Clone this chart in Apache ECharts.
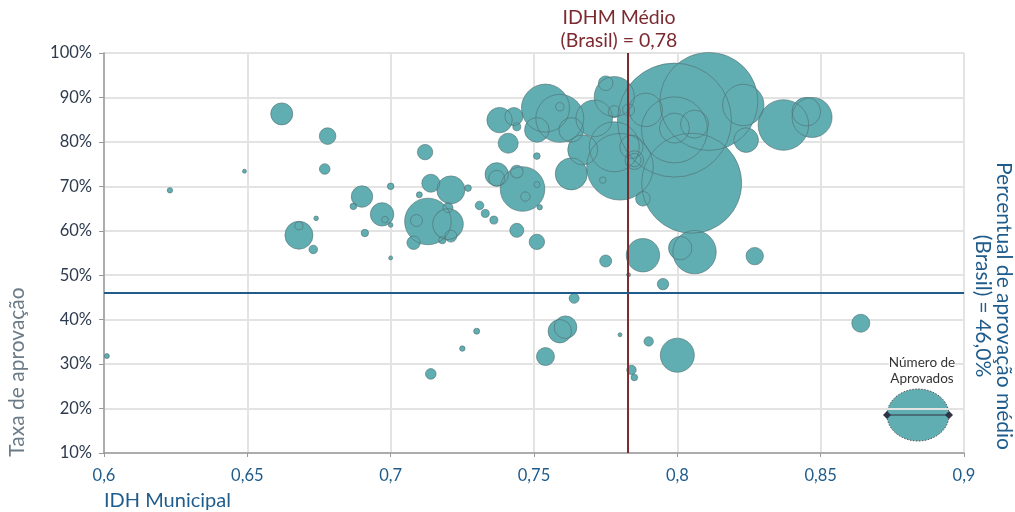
<!DOCTYPE html>
<html>
<head>
<meta charset="utf-8">
<script src="https://cdn.jsdelivr.net/npm/echarts@6/dist/echarts.min.js"></script>
<style>
  html, body { margin: 0; padding: 0; background: #fff; }
  #chart { width: 1015px; height: 512px; }
</style>
</head>
<body>
<div id="chart"></div>
<script>
// IDH municipal, taxa de aprovação (%) e número de aprovados por município
var idh = [0.601, 0.623, 0.649, 0.662, 0.678, 0.677, 0.687, 0.674, 0.668, 0.668,
  0.673, 0.712, 0.690, 0.700, 0.697, 0.698, 0.700, 0.691, 0.700, 0.714,
  0.710, 0.721, 0.727, 0.713, 0.709, 0.720, 0.720, 0.721, 0.718, 0.708,
  0.731, 0.733, 0.736, 0.744, 0.751, 0.737, 0.737, 0.746, 0.744, 0.747,
  0.751, 0.752, 0.751, 0.741, 0.763, 0.764, 0.783, 0.795, 0.730, 0.725,
  0.714, 0.759, 0.761, 0.754, 0.780, 0.790, 0.800, 0.784, 0.785, 0.788,
  0.775, 0.801, 0.806, 0.827, 0.805, 0.811, 0.799, 0.799, 0.806, 0.799,
  0.789, 0.823, 0.824, 0.837, 0.847, 0.845, 0.864, 0.738, 0.743, 0.744,
  0.754, 0.759, 0.751, 0.759, 0.763, 0.767, 0.771, 0.775, 0.778, 0.778,
  0.783, 0.780, 0.778, 0.784, 0.785, 0.774, 0.788, 0.785];
var taxa = [31.8, 69.1, 73.4, 86.3, 81.3, 73.9, 65.5, 62.8, 59.0, 61.1,
  55.8, 77.7, 67.7, 70.0, 63.7, 62.5, 61.3, 59.5, 53.9, 70.7,
  68.1, 69.2, 69.6, 62.1, 62.3, 61.5, 65.2, 58.8, 57.9, 57.3,
  65.7, 63.9, 62.4, 60.1, 57.5, 72.7, 71.8, 69.4, 73.3, 67.7,
  70.4, 65.3, 76.8, 79.7, 72.8, 44.8, 50.1, 48.0, 37.4, 33.5,
  27.8, 37.4, 38.3, 31.7, 36.6, 35.1, 32.0, 28.7, 27.0, 54.5,
  53.2, 56.1, 55.2, 54.3, 70.7, 89.1, 84.9, 82.7, 84.0, 83.1,
  87.2, 88.3, 80.4, 83.8, 85.5, 86.8, 39.2, 84.9, 85.7, 83.4,
  87.6, 87.9, 82.7, 85.3, 82.7, 78.2, 85.3, 93.2, 90.2, 86.8,
  87.2, 74.4, 78.9, 78.9, 75.9, 71.4, 67.2, 75.9];
var aprovados = [70, 81, 44, 1344, 765, 312, 121, 59, 2178, 178,
  205, 659, 1272, 121, 1521, 121, 59, 152, 44, 900,
  100, 2178, 121, 6032, 400, 2601, 278, 400, 152, 499,
  205, 178, 178, 544, 659, 1521, 711, 5525, 441, 245,
  100, 81, 121, 1111, 2844, 278, 44, 361, 100, 81,
  312, 1521, 1419, 900, 44, 245, 3211, 245, 121, 3098,
  400, 1521, 5232, 841, 27778, 26680, 36100, 12100, 2178, 2500,
  3098, 4761, 1681, 7112, 4444, 2272, 900, 1792, 900, 178,
  6400, 205, 1681, 6400, 1681, 2500, 3721, 592, 4444, 400,
  400, 12321, 6944, 1521, 499, 121, 592, 961];
var xTicks = [0.6, 0.65, 0.7, 0.75, 0.8, 0.85, 0.9];
var yTicks = [10, 20, 30, 40, 50, 60, 70, 80, 90, 100];
var idhMedio = 0.7828;
var taxaMedia = 46.0;

var pontos = [];
for (var i = 0; i < idh.length; i++) {
  pontos.push([idh[i], taxa[i], aprovados[i]]);
}

var fonte = "Lato, 'Open Sans', sans-serif";
var tamanho = function (v) { return Math.sqrt(v[2]) * 0.6; };

var myChart = echarts.init(document.getElementById("chart"));
var option = {
  animation: false,
  textStyle: { fontFamily: fonte },
  grid: { left: 104, right: 51, top: 53, bottom: 59 },
  xAxis: {
    type: "value",
    min: xTicks[0],
    max: xTicks[xTicks.length - 1],
    interval: 0.05,
    axisLine: { show: true, onZero: false, lineStyle: { color: "#9a9a9a", width: 1.5 } },
    axisTick: { show: true, length: 4, lineStyle: { color: "#9a9a9a" } },
    splitLine: { show: true, lineStyle: { color: "#e3e3e3", width: 2 } },
    axisLabel: {
      color: "#1f5c8c",
      fontSize: 16.5,
      margin: 14,
      formatter: function (v) { return String(+v.toFixed(2)).replace(".", ","); }
    }
  },
  yAxis: {
    type: "value",
    min: yTicks[0],
    max: yTicks[yTicks.length - 1],
    interval: 10,
    axisLine: { show: true, onZero: false, lineStyle: { color: "#9a9a9a", width: 1.5 } },
    axisTick: { show: true, length: 5, lineStyle: { color: "#9a9a9a" } },
    splitLine: { show: true, lineStyle: { color: "#e3e3e3", width: 2 } },
    axisLabel: {
      color: "#2e3b4e",
      fontSize: 16.5,
      margin: 12,
      formatter: "{value}%"
    }
  },
  series: [
    {
      // preenchimento das bolhas
      type: "scatter",
      data: pontos,
      symbolSize: tamanho,
      itemStyle: { color: "#60adb2", opacity: 1 },
      silent: true
    },
    {
      // contorno das bolhas por cima
      type: "scatter",
      data: pontos,
      symbolSize: tamanho,
      itemStyle: { color: "rgba(0,0,0,0)", borderColor: "rgba(80,110,112,0.75)", borderWidth: 1 },
      silent: true
    },
    {
      // IDHM médio do Brasil
      type: "line",
      data: [[idhMedio, yTicks[0]], [idhMedio, yTicks[yTicks.length - 1]]],
      showSymbol: false,
      silent: true,
      lineStyle: { color: "#7b2a30", width: 2 }
    },
    {
      // taxa média de aprovação do Brasil
      type: "line",
      data: [[xTicks[0], taxaMedia], [xTicks[xTicks.length - 1], taxaMedia]],
      showSymbol: false,
      silent: true,
      lineStyle: { color: "#1f5c8c", width: 2 }
    }
  ],
  graphic: [
    {
      type: "text",
      x: 619,
      y: 29,
      style: {
        text: "IDHM Médio\n(Brasil) = 0,78",
        fill: "#7b2a30",
        font: "19.5px " + fonte,
        textAlign: "center",
        textVerticalAlign: "middle",
        lineHeight: 23
      }
    },
    {
      type: "text",
      x: 17,
      y: 372,
      rotation: Math.PI / 2,
      style: {
        text: "Taxa de aprovação",
        fill: "#6b7b88",
        font: "21px " + fonte,
        textAlign: "center",
        textVerticalAlign: "middle"
      }
    },
    {
      type: "text",
      x: 993,
      y: 306,
      rotation: -Math.PI / 2,
      style: {
        text: "Percentual de aprovação médio\n(Brasil) = 46,0%",
        fill: "#1f5c8c",
        font: "21px " + fonte,
        textAlign: "center",
        textVerticalAlign: "middle",
        lineHeight: 21
      }
    },
    {
      type: "text",
      x: 104,
      y: 491,
      style: {
        text: "IDH Municipal",
        fill: "#1f5c8c",
        font: "20px " + fonte
      }
    },
    {
      type: "text",
      x: 922,
      y: 371,
      z: 10,
      style: {
        text: "Número de\nAprovados",
        fill: "#333",
        font: "13.5px " + fonte,
        textAlign: "center",
        textVerticalAlign: "middle",
        lineHeight: 16,
        backgroundColor: "#fff"
      }
    },
    {
      type: "ellipse",
      shape: { cx: 918, cy: 415, rx: 31, ry: 26 },
      style: { fill: "#60adb2", stroke: "#555", lineWidth: 1, lineDash: [1.5, 1.5] }
    },
    {
      type: "line",
      shape: { x1: 887, y1: 415, x2: 949, y2: 415 },
      style: { stroke: "#2e3445", lineWidth: 1.2 }
    },
    {
      type: "polygon",
      shape: { points: [[883, 415], [887, 411], [891, 415], [887, 419]] },
      style: { fill: "#2e3445" }
    },
    {
      type: "polygon",
      shape: { points: [[945, 415], [949, 411], [953, 415], [949, 419]] },
      style: { fill: "#2e3445" }
    }
  ]
};
myChart.setOption(option);
window.addEventListener("resize", function () {
  myChart.resize();
});
</script>
</body>
</html>
